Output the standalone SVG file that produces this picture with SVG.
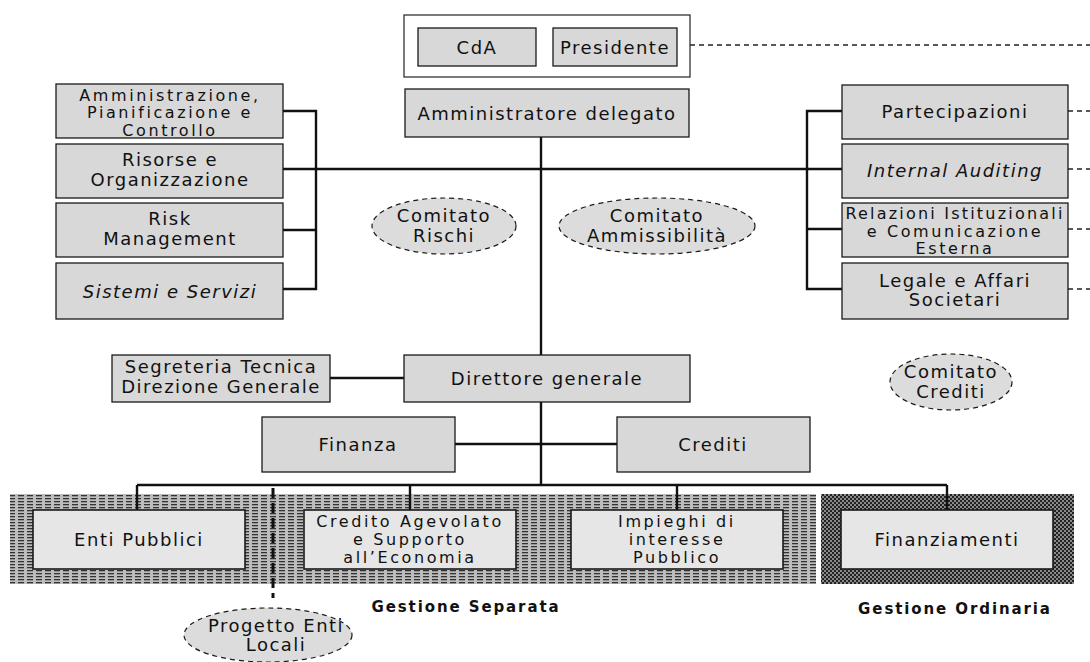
<svg xmlns="http://www.w3.org/2000/svg" width="1090" height="662" viewBox="0 0 1090 662">
<defs>
<pattern id="hatch" width="9" height="3" patternUnits="userSpaceOnUse">
<rect width="9" height="3" fill="#bdbdbd"/>
<rect x="0" y="0" width="6" height="1.3" fill="#333"/>
</pattern>
<pattern id="cross" width="4" height="4" patternUnits="userSpaceOnUse">
<rect width="4" height="4" fill="#8a8a8a"/>
<rect x="0" y="0" width="2" height="2" fill="#222"/>
<rect x="2" y="2" width="2" height="2" fill="#222"/>
</pattern>
</defs>
<style>
.box{fill:#d8d8d8;stroke:#1a1a1a;stroke-width:1.3}
.lbox{fill:#e6e6e6;stroke:#1a1a1a;stroke-width:1.6}
.ell{fill:#dcdcdc;stroke:#1a1a1a;stroke-width:1.2;stroke-dasharray:5 4}
.t{font-family:"DejaVu Sans",Verdana,sans-serif;font-size:18px;letter-spacing:1.5px;fill:#111;text-anchor:middle}
.s{font-size:16px;letter-spacing:2.6px}
.i{font-style:italic}
.b{font-family:"DejaVu Sans",Verdana,sans-serif;font-size:15px;font-weight:bold;letter-spacing:1.9px;fill:#111;text-anchor:middle}
.ln{stroke:#111;stroke-width:2.4;fill:none}
.dl{stroke:#222;stroke-width:1.4;stroke-dasharray:5 4;fill:none}
</style>
<g id="connectors">
<line class="dl" x1="690" y1="45" x2="1090" y2="45"/>
<line class="ln" x1="541" y1="137" x2="541" y2="355"/>
<line class="ln" x1="541" y1="402" x2="541" y2="485"/>
<line class="ln" x1="316" y1="169" x2="807" y2="169"/>
<polyline class="ln" points="283,111 316,111 316,289 283,289"/>
<line class="ln" x1="283" y1="169" x2="316" y2="169"/>
<line class="ln" x1="283" y1="230" x2="316" y2="230"/>
<polyline class="ln" points="842,111 807,111 807,289 842,289"/>
<line class="ln" x1="807" y1="169" x2="842" y2="169"/>
<line class="ln" x1="807" y1="229" x2="842" y2="229"/>
<line class="dl" x1="1068" y1="111" x2="1090" y2="111"/>
<line class="dl" x1="1068" y1="169" x2="1090" y2="169"/>
<line class="dl" x1="1068" y1="229" x2="1090" y2="229"/>
<line class="dl" x1="1068" y1="289" x2="1090" y2="289"/>
<line class="ln" x1="330" y1="378" x2="404" y2="378"/>
<line class="ln" x1="455" y1="444" x2="617" y2="444"/>
<line class="ln" x1="137" y1="485" x2="947" y2="485"/>
</g>
<g id="gestione-separata-area">
<rect x="10" y="494" width="806" height="90" fill="url(#hatch)"/>
</g>
<g id="gestione-ordinaria-area">
<rect x="821" y="494" width="253" height="90" fill="url(#cross)"/>
</g>
<g id="drops">
<line class="ln" x1="137" y1="485" x2="137" y2="510"/>
<line class="ln" x1="410" y1="485" x2="410" y2="510"/>
<line class="ln" x1="677" y1="485" x2="677" y2="510"/>
<line class="ln" x1="947" y1="485" x2="947" y2="510"/>
<line stroke="#111" stroke-width="3" stroke-dasharray="10 5" x1="273" y1="488" x2="273" y2="598"/>
</g>
<g id="top">
<rect x="404" y="15" width="286" height="62" fill="#fff" stroke="#333" stroke-width="1.3"/>
</g>
<g id="cda"><rect class="box" x="418" y="28" width="118" height="38"/><text class="t" x="477" y="54">CdA</text></g>
<g id="presidente"><rect class="box" x="553" y="28" width="124" height="38"/><text class="t" x="615" y="54">Presidente</text></g>
<g id="ad"><rect class="box" x="405" y="89" width="284" height="48"/><text class="t" x="547" y="120">Amministratore delegato</text></g>
<g id="apc"><rect class="box" x="56" y="84" width="227" height="54"/><text class="t s" x="170" y="100.5">Amministrazione,</text><text class="t s" x="170" y="118">Pianificazione e</text><text class="t s" x="170" y="135.5">Controllo</text></g>
<g id="ro"><rect class="box" x="56" y="144" width="227" height="54"/><text class="t" x="170" y="166">Risorse e</text><text class="t" x="170" y="186">Organizzazione</text></g>
<g id="rm"><rect class="box" x="56" y="203" width="227" height="54"/><text class="t" x="170" y="225">Risk</text><text class="t" x="170" y="245">Management</text></g>
<g id="ss"><rect class="box" x="56" y="263" width="227" height="56"/><text class="t i" x="170" y="298">Sistemi e Servizi</text></g>
<g id="part"><rect class="box" x="842" y="85" width="226" height="54"/><text class="t" x="955" y="118">Partecipazioni</text></g>
<g id="ia"><rect class="box" x="842" y="144" width="226" height="54"/><text class="t i" x="955" y="177">Internal Auditing</text></g>
<g id="rel"><rect class="box" x="842" y="203" width="226" height="54"/><text class="t s" x="955" y="219" style="letter-spacing:2.2px">Relazioni Istituzionali</text><text class="t s" x="955" y="236.5">e Comunicazione</text><text class="t s" x="955" y="254">Esterna</text></g>
<g id="leg"><rect class="box" x="842" y="263" width="226" height="56"/><text class="t" x="955" y="287">Legale e Affari</text><text class="t" x="955" y="306">Societari</text></g>
<g id="crischi"><ellipse class="ell" cx="444" cy="226" rx="72" ry="28"/><text class="t" x="444" y="222">Comitato</text><text class="t" x="444" y="242">Rischi</text></g>
<g id="camm"><ellipse class="ell" cx="657" cy="226" rx="98" ry="28"/><text class="t" x="657" y="222">Comitato</text><text class="t" x="657" y="242">Ammissibilità</text></g>
<g id="ccred"><ellipse class="ell" cx="951" cy="382" rx="61" ry="28"/><text class="t" x="951" y="378">Comitato</text><text class="t" x="951" y="398">Crediti</text></g>
<g id="seg"><rect class="box" x="112" y="355" width="218" height="47"/><text class="t" x="221" y="373">Segreteria Tecnica</text><text class="t" x="221" y="393">Direzione Generale</text></g>
<g id="dg"><rect class="box" x="404" y="355" width="286" height="47"/><text class="t" x="547" y="385">Direttore generale</text></g>
<g id="fin"><rect class="box" x="262" y="417" width="193" height="55"/><text class="t" x="358" y="451">Finanza</text></g>
<g id="cred"><rect class="box" x="617" y="417" width="193" height="55"/><text class="t" x="713" y="451">Crediti</text></g>
<g id="enti"><rect class="lbox" x="33" y="510" width="212" height="59"/><text class="t" x="139" y="546">Enti Pubblici</text></g>
<g id="cae"><rect class="lbox" x="304" y="510" width="212" height="59"/><text class="t s" x="410" y="527">Credito Agevolato</text><text class="t s" x="410" y="545">e Supporto</text><text class="t s" x="410" y="563">all’Economia</text></g>
<g id="imp"><rect class="lbox" x="571" y="510" width="212" height="59"/><text class="t s" x="677" y="527">Impieghi di</text><text class="t s" x="677" y="545">interesse</text><text class="t s" x="677" y="563">Pubblico</text></g>
<g id="finz"><rect class="lbox" x="841" y="510" width="212" height="59"/><text class="t" x="947" y="546">Finanziamenti</text></g>
<g id="labels"><text class="b" x="466" y="612">Gestione Separata</text><text class="b" x="955" y="614">Gestione Ordinaria</text></g>
<g id="pel"><ellipse class="ell" cx="268" cy="635" rx="84" ry="27"/><text class="t" x="276" y="632">Progetto Enti</text><text class="t" x="276" y="651">Locali</text></g>
</svg>
